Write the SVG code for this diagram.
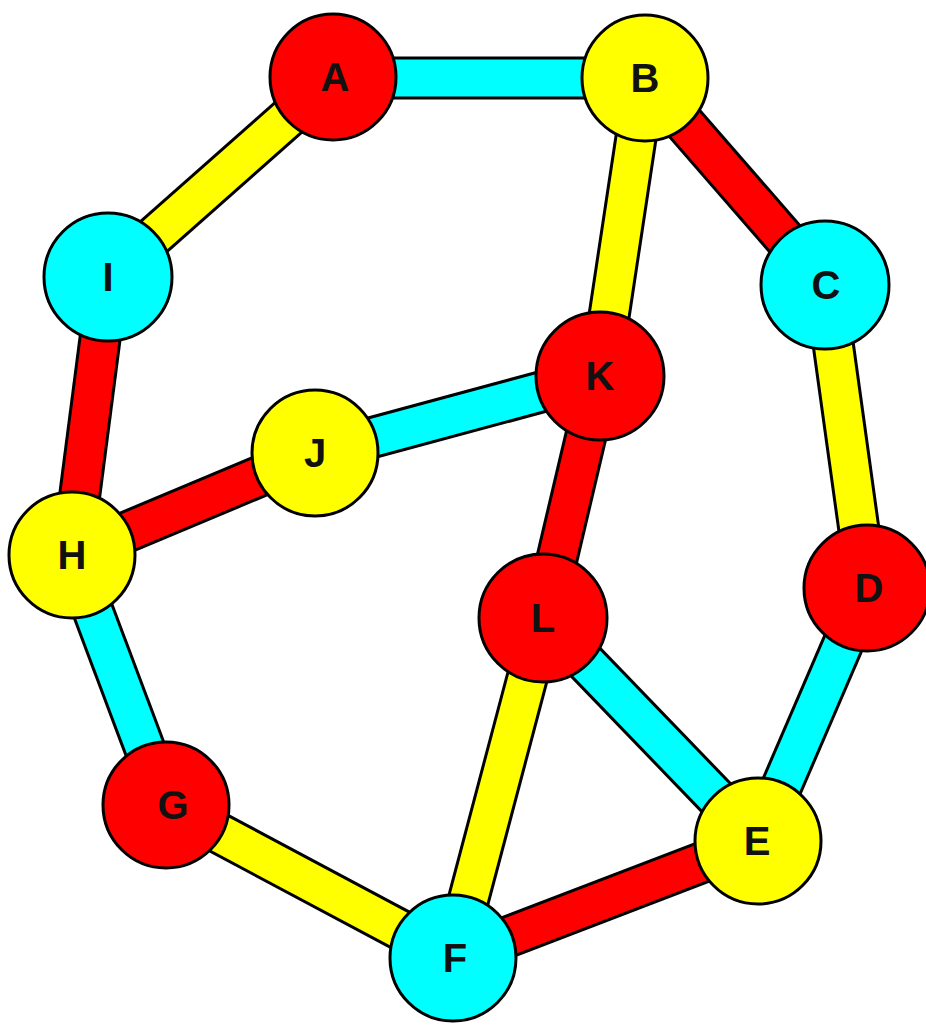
<svg xmlns="http://www.w3.org/2000/svg" width="926" height="1025" viewBox="0 0 926 1025">
<style>
.eo{stroke:#000;stroke-width:43;fill:none}
.r{stroke:#FF0000;stroke-width:37;fill:none}
.y{stroke:#FFFF00;stroke-width:37;fill:none}
.c{stroke:#00FFFF;stroke-width:37;fill:none}
.n{stroke:#000;stroke-width:3}
.nr{fill:#FF0000}.ny{fill:#FFFF00}.nc{fill:#00FFFF}
.t{font-family:"Liberation Sans",Arial,sans-serif;font-weight:bold;font-size:40px;fill:#111;text-anchor:middle}
</style>
<rect width="926" height="1025" fill="#fff"/>
<g id="connectors">
<g id="outlines">
<line class="eo" x1="333" y1="78" x2="645" y2="78"/>
<line class="eo" x1="333" y1="78" x2="108" y2="277"/>
<line class="eo" x1="645" y1="78" x2="825" y2="285"/>
<line class="eo" x1="645" y1="78" x2="600" y2="376"/>
<line class="eo" x1="825" y1="285" x2="867" y2="588"/>
<line class="eo" x1="867" y1="588" x2="758" y2="841"/>
<line class="eo" x1="758" y1="841" x2="453" y2="958"/>
<line class="eo" x1="758" y1="841" x2="543" y2="618"/>
<line class="eo" x1="453" y1="958" x2="543" y2="618"/>
<line class="eo" x1="453" y1="958" x2="166" y2="805"/>
<line class="eo" x1="166" y1="805" x2="72" y2="555"/>
<line class="eo" x1="72" y1="555" x2="108" y2="277"/>
<line class="eo" x1="72" y1="555" x2="315" y2="453"/>
<line class="eo" x1="315" y1="453" x2="600" y2="376"/>
<line class="eo" x1="600" y1="376" x2="543" y2="618"/>
</g>
<line class="c" x1="333" y1="78" x2="645" y2="78"/>
<line class="y" x1="333" y1="78" x2="108" y2="277"/>
<line class="r" x1="645" y1="78" x2="825" y2="285"/>
<line class="y" x1="645" y1="78" x2="600" y2="376"/>
<line class="y" x1="825" y1="285" x2="867" y2="588"/>
<line class="c" x1="867" y1="588" x2="758" y2="841"/>
<line class="r" x1="758" y1="841" x2="453" y2="958"/>
<line class="c" x1="758" y1="841" x2="543" y2="618"/>
<line class="y" x1="453" y1="958" x2="543" y2="618"/>
<line class="y" x1="453" y1="958" x2="166" y2="805"/>
<line class="c" x1="166" y1="805" x2="72" y2="555"/>
<line class="r" x1="72" y1="555" x2="108" y2="277"/>
<line class="r" x1="72" y1="555" x2="315" y2="453"/>
<line class="c" x1="315" y1="453" x2="600" y2="376"/>
<line class="r" x1="600" y1="376" x2="543" y2="618"/>
</g>
<g id="node-A"><circle class="n nr" cx="333" cy="77" r="63"/><text class="t" x="335" y="91">A</text></g>
<g id="node-B"><circle class="n ny" cx="645" cy="78" r="63"/><text class="t" x="645" y="92">B</text></g>
<g id="node-C"><circle class="n nc" cx="825" cy="285" r="64"/><text class="t" x="826" y="299">C</text></g>
<g id="node-D"><circle class="n nr" cx="867" cy="588" r="63"/><text class="t" x="869" y="602">D</text></g>
<g id="node-E"><circle class="n ny" cx="758" cy="841" r="63"/><text class="t" x="757" y="855">E</text></g>
<g id="node-F"><circle class="n nc" cx="453" cy="958" r="63"/><text class="t" x="455" y="972">F</text></g>
<g id="node-G"><circle class="n nr" cx="166" cy="805" r="63"/><text class="t" x="173" y="819">G</text></g>
<g id="node-H"><circle class="n ny" cx="72" cy="555" r="63"/><text class="t" x="72" y="569">H</text></g>
<g id="node-I"><circle class="n nc" cx="108" cy="277" r="64"/><text class="t" x="108" y="291">I</text></g>
<g id="node-J"><circle class="n ny" cx="315" cy="453" r="63"/><text class="t" x="315" y="467">J</text></g>
<g id="node-K"><circle class="n nr" cx="600" cy="376" r="64"/><text class="t" x="600" y="390">K</text></g>
<g id="node-L"><circle class="n nr" cx="543" cy="618" r="64"/><text class="t" x="543" y="632">L</text></g>
</svg>
